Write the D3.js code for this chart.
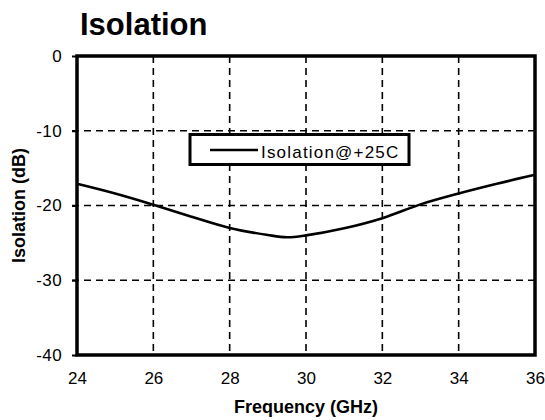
<!DOCTYPE html>
<html>
<head>
<meta charset="utf-8">
<script src="https://cdn.jsdelivr.net/npm/d3@7"></script>
<style>
  body { margin: 0; background: #fff; }
  svg { display: block; font-family: Arial, "Liberation Sans", sans-serif; }
</style>
</head>
<body>
<svg width="545" height="420"></svg>
<script>
// data
var freq = [24, 25, 26, 27, 28, 29, 29.5, 30, 31, 32, 33, 34, 35, 36];
var isolation = [-17.1, -18.4, -19.9, -21.5, -23.0, -23.95, -24.25, -24.0, -23.05, -21.7, -19.85, -18.4, -17.1, -15.9];
var xTicks = [24, 26, 28, 30, 32, 34, 36];
var yTicks = [0, -10, -20, -30, -40];
var seriesName = "Isolation@+25C";

var svg = d3.select("svg");
// plot box (window.top is reserved, so prefix)
var plotL = 77, plotR = 535, plotT = 56, plotB = 355;

var x = d3.scaleLinear().domain([24, 36]).range([plotL, plotR]);
var y = d3.scaleLinear().domain([-40, 0]).range([plotB, plotT]);

// 网格
svg.append("g").selectAll("line")
    .data(xTicks.slice(1, -1))
    .enter().append("line")
    .attr("x1", function(d){ return x(d); })
    .attr("x2", function(d){ return x(d); })
    .attr("y1", plotT).attr("y2", plotB)
    .attr("stroke", "#000").attr("stroke-width", 1.6)
    .attr("stroke-dasharray", "7,5");

svg.append("g").selectAll("line")
    .data(yTicks.slice(1, -1))
    .enter().append("line")
    .attr("x1", plotL - 5).attr("x2", plotR)
    .attr("y1", function(d){ return y(d); })
    .attr("y2", function(d){ return y(d); })
    .attr("stroke", "#000").attr("stroke-width", 1.6)
    .attr("stroke-dasharray", "7,5");

// axes - plain hyphen for negatives, like the original
var yAxis = svg.append("g")
    .attr("transform", "translate(" + plotL + ",0)")
    .call(d3.axisLeft(y).tickValues(yTicks).tickSize(5).tickPadding(10)
        .tickFormat(function(d){ return String(d); }));
yAxis.select(".domain").remove();
yAxis.selectAll("line").attr("stroke-width", 2);
yAxis.selectAll("text").attr("font-size", 17).attr("fill", "#000")
    .attr("letter-spacing", 0.4)
    .attr("font-family", "Arial, 'Liberation Sans', sans-serif");

var xAxis = svg.append("g")
    .attr("transform", "translate(0," + plotB + ")")
    .call(d3.axisBottom(x).tickValues(xTicks).tickSize(0).tickPadding(17));
xAxis.select(".domain").remove();
xAxis.selectAll("text").attr("font-size", 17).attr("fill", "#000")
    .attr("font-family", "Arial, 'Liberation Sans', sans-serif");

// frame
svg.append("rect")
    .attr("x", plotL).attr("y", plotT)
    .attr("width", plotR - plotL).attr("height", plotB - plotT)
    .attr("fill", "none").attr("stroke", "#000").attr("stroke-width", 3.5);

// curve
var line = d3.line()
    .x(function(d, i){ return x(freq[i]); })
    .y(function(d){ return y(d); })
    .curve(d3.curveCatmullRom);

svg.append("path")
    .datum(isolation)
    .attr("d", line)
    .attr("fill", "none")
    .attr("stroke", "#000")
    .attr("stroke-width", 2.6);

// legend
var lg = svg.append("g");
lg.append("rect")
    .attr("x", 190).attr("y", 134.5)
    .attr("width", 219).attr("height", 30)
    .attr("fill", "#fff").attr("stroke", "#000").attr("stroke-width", 3);
lg.append("line")
    .attr("x1", 210).attr("x2", 258)
    .attr("y1", 150).attr("y2", 150)
    .attr("stroke", "#000").attr("stroke-width", 2.6);
lg.append("text")
    .attr("x", 261).attr("y", 158)
    .attr("font-size", 17)
    .attr("letter-spacing", 1.2)
    .text(seriesName);

// titles
svg.append("text")
    .attr("x", 80).attr("y", 35)
    .attr("font-size", 31).attr("font-weight", "bold")
    .text("Isolation");

svg.append("text")
    .attr("x", (plotL + plotR) / 2).attr("y", 413)
    .attr("text-anchor", "middle")
    .attr("font-size", 18).attr("font-weight", "bold")
    .text("Frequency (GHz)");

svg.append("text")
    .attr("transform", "translate(25," + ((plotT + plotB) / 2) + ") rotate(-90)")
    .attr("text-anchor", "middle")
    .attr("font-size", 18).attr("font-weight", "bold")
    .text("Isolation (dB)");
</script>
</body>
</html>
